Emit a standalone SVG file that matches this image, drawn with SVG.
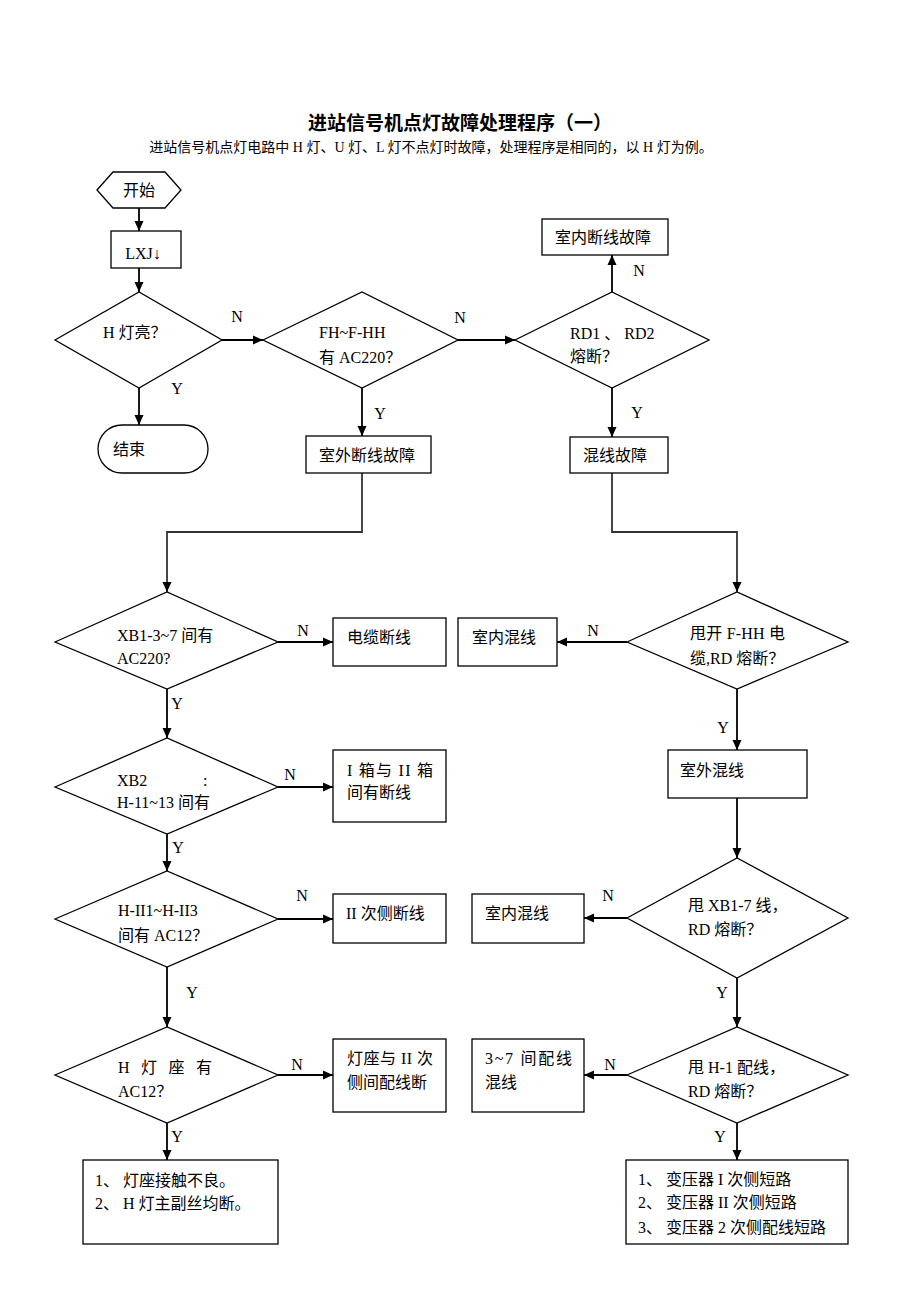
<svg xmlns="http://www.w3.org/2000/svg" width="920" height="1302" viewBox="0 0 920 1302">
<defs>
<marker id="arr" markerUnits="userSpaceOnUse" markerWidth="10" markerHeight="10" refX="10" refY="5" orient="auto">
<path d="M0,0.5 L10,5 L0,9.5 z" fill="#000"/>
</marker>
<style>
.s{fill:#fff;stroke:#000;stroke-width:1.3}
.c{fill:none;stroke:#000;stroke-width:1.8}
.c2{fill:none;stroke:#333;stroke-width:1.8}
.a{marker-end:url(#arr)}
text{font-family:"Liberation Serif","Noto Sans CJK SC",serif;font-size:16px;fill:#000}
.m{text-anchor:middle}
.t{font-size:19px;font-weight:bold}
.st{font-size:14px}
</style>
</defs>
<rect width="920" height="1302" fill="#fff"/>
<g id="title">
<text class="t m" x="460" y="130">进站信号机点灯故障处理程序（一）</text>
<text class="st m" x="431" y="152">进站信号机点灯电路中 H 灯、U 灯、L 灯不点灯时故障，处理程序是相同的，以 H 灯为例。</text>
</g>
<g id="connectors">
<path class="c a" d="M139,208 V231"/>
<path class="c a" d="M139,268 V292"/>
<path class="c a" d="M222,340 H263"/>
<path class="c a" d="M139,388 V425"/>
<path class="c a" d="M458,340 H515"/>
<path class="c a" d="M362,388 V436"/>
<path class="c a" d="M612,292 V255"/>
<path class="c a" d="M612,388 V437"/>
<path class="c2 a" d="M362,473 V532 H167 V592"/>
<path class="c2 a" d="M612,473 V532 H737 V592"/>
<path class="c a" d="M278,642 H333"/>
<path class="c a" d="M627,642 H557"/>
<path class="c a" d="M167,689 V738"/>
<path class="c a" d="M737,689 V750"/>
<path class="c a" d="M278,787 H333"/>
<path class="c a" d="M737,798 V858"/>
<path class="c a" d="M167,834 V871"/>
<path class="c a" d="M278,919 H333"/>
<path class="c a" d="M627,918 H584"/>
<path class="c a" d="M167,967 V1027"/>
<path class="c a" d="M737,978 V1027"/>
<path class="c a" d="M278,1075 H333"/>
<path class="c a" d="M627,1075 H584"/>
<path class="c a" d="M167,1123 V1160"/>
<path class="c a" d="M737,1123 V1160"/>
<text class="m" x="237" y="322">N</text>
<text class="m" x="177" y="394">Y</text>
<text class="m" x="460" y="323">N</text>
<text class="m" x="380" y="419">Y</text>
<text class="m" x="639" y="276">N</text>
<text class="m" x="637" y="418">Y</text>
<text class="m" x="303" y="636">N</text>
<text class="m" x="593" y="636">N</text>
<text class="m" x="177" y="709">Y</text>
<text class="m" x="723" y="733">Y</text>
<text class="m" x="290" y="780">N</text>
<text class="m" x="178" y="853">Y</text>
<text class="m" x="302" y="901">N</text>
<text class="m" x="608" y="901">N</text>
<text class="m" x="192" y="998">Y</text>
<text class="m" x="722" y="998">Y</text>
<text class="m" x="297" y="1070">N</text>
<text class="m" x="610" y="1070">N</text>
<text class="m" x="177" y="1142">Y</text>
<text class="m" x="720" y="1142">Y</text>
</g>
<g id="start">
<polygon class="s" points="97,190 113,172 165,172 181,190 165,208 113,208"/>
<text class="m" x="139" y="196">开始</text>
</g>
<g id="lxj">
<rect class="s" x="111" y="231" width="70" height="37"/>
<text class="m" x="143" y="259">LXJ↓</text>
</g>
<g id="d_hlight">
<polygon class="s" points="55,340 139,292 222,340 139,388"/>
<text x="103" y="338">H 灯亮？</text>
</g>
<g id="end">
<rect class="s" x="98" y="425" width="110" height="48" rx="24" ry="24"/>
<text x="113" y="455">结束</text>
</g>
<g id="d_fh">
<polygon class="s" points="263,340 362,292 458,340 362,388"/>
<text x="319" y="338">FH~F-HH</text>
<text x="319" y="363">有 AC220？</text>
</g>
<g id="outdoor_break">
<rect class="s" x="306" y="436" width="125" height="37"/>
<text x="319" y="461">室外断线故障</text>
</g>
<g id="indoor_break">
<rect class="s" x="542" y="219" width="126" height="36"/>
<text x="555" y="243">室内断线故障</text>
</g>
<g id="d_rd">
<polygon class="s" points="515,340 612,292 709,340 612,388"/>
<text x="570" y="339">RD1 、 RD2</text>
<text x="570" y="362">熔断？</text>
</g>
<g id="mixed">
<rect class="s" x="570" y="437" width="98" height="36"/>
<text x="583" y="461">混线故障</text>
</g>
<g id="d_xb1">
<polygon class="s" points="55,642 167,592 278,642 167,689"/>
<text x="117" y="641">XB1-3~7 间有</text>
<text x="117" y="664">AC220?</text>
</g>
<g id="cable_break">
<rect class="s" x="333" y="618" width="113" height="48"/>
<text x="347" y="643">电缆断线</text>
</g>
<g id="indoor_mix1">
<rect class="s" x="458" y="618" width="99" height="48"/>
<text x="472" y="643">室内混线</text>
</g>
<g id="d_fhh">
<polygon class="s" points="627,642 737,592 848,642 737,689"/>
<text x="690" y="639" textLength="95" lengthAdjust="spacing">甩开 F-HH 电</text>
<text x="690" y="664">缆,RD 熔断？</text>
</g>
<g id="outdoor_mix">
<rect class="s" x="668" y="750" width="139" height="48"/>
<text x="680" y="776">室外混线</text>
</g>
<g id="d_xb2">
<polygon class="s" points="55,787 167,738 278,787 167,834"/>
<text x="117" y="786">XB2</text>
<text x="203" y="786">:</text>
<text x="117" y="808">H-11~13 间有</text>
</g>
<g id="box_break">
<rect class="s" x="333" y="750" width="113" height="72"/>
<text x="347" y="776" textLength="86" lengthAdjust="spacing">I 箱与 II 箱</text>
<text x="347" y="798">间有断线</text>
</g>
<g id="d_hii">
<polygon class="s" points="55,919 167,871 278,919 167,967"/>
<text x="118" y="916">H-II1~H-II3</text>
<text x="118" y="941">间有 AC12？</text>
</g>
<g id="sec_break">
<rect class="s" x="333" y="894" width="113" height="49"/>
<text x="346" y="919">II 次侧断线</text>
</g>
<g id="d_xb17">
<polygon class="s" points="627,918 737,858 848,918 737,978"/>
<text x="688" y="911">甩 XB1-7 线，</text>
<text x="688" y="935">RD 熔断？</text>
</g>
<g id="indoor_mix2">
<rect class="s" x="472" y="894" width="112" height="49"/>
<text x="485" y="919">室内混线</text>
</g>
<g id="d_socket">
<polygon class="s" points="55,1075 167,1027 278,1075 167,1123"/>
<text x="118" y="1073" textLength="94" lengthAdjust="spacing">H 灯 座 有</text>
<text x="118" y="1097">AC12？</text>
</g>
<g id="socket_break">
<rect class="s" x="333" y="1039" width="113" height="73"/>
<text x="347" y="1064" textLength="86" lengthAdjust="spacing">灯座与 II 次</text>
<text x="347" y="1088">侧间配线断</text>
</g>
<g id="d_h1">
<polygon class="s" points="627,1075 737,1027 848,1075 737,1123"/>
<text x="688" y="1073">甩 H-1 配线，</text>
<text x="688" y="1097">RD 熔断？</text>
</g>
<g id="mix37">
<rect class="s" x="472" y="1039" width="112" height="73"/>
<text x="485" y="1064" textLength="87" lengthAdjust="spacing">3~7 间配线</text>
<text x="485" y="1088">混线</text>
</g>
<g id="result_left">
<rect class="s" x="83" y="1160" width="195" height="84"/>
<text x="95" y="1186">1、 灯座接触不良。</text>
<text x="95" y="1209">2、 H 灯主副丝均断。</text>
</g>
<g id="result_right">
<rect class="s" x="626" y="1160" width="222" height="84"/>
<text x="638" y="1185">1、 变压器 I 次侧短路</text>
<text x="638" y="1208">2、 变压器 II 次侧短路</text>
<text x="638" y="1233">3、 变压器 2 次侧配线短路</text>
</g>
</svg>
